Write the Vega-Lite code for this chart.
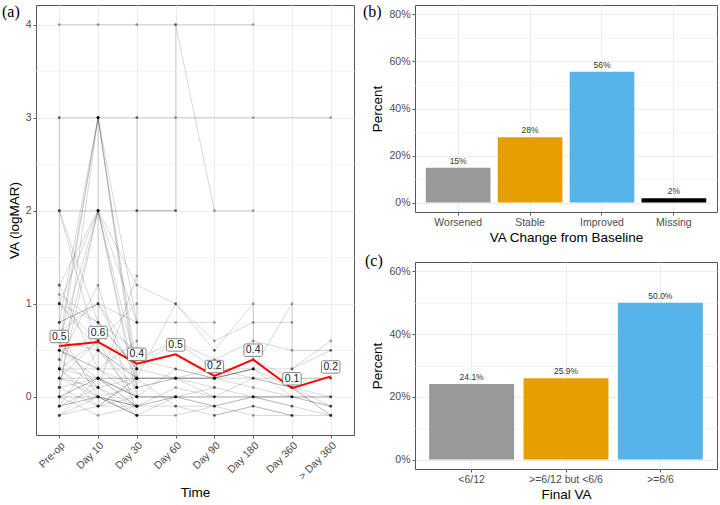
{
  "$schema": "https://vega.github.io/schema/vega-lite/v6.json",
  "padding": {"left": 1, "top": 3, "right": 2, "bottom": 2},
  "bounds": "flush",
  "spacing": 61,
  "config": {
    "font": "Liberation Sans",
    "view": {"stroke": "#555555", "strokeWidth": 1},
    "axis": {
      "domain": false, "tickColor": "#333333", "tickSize": 3, "tickWidth": 0.8,
      "labelColor": "#4d4d4d", "labelFont": "Liberation Sans", "labelFontSize": 10.5, "labelPadding": 2,
      "titleFont": "Liberation Sans", "titleFontSize": 13.5, "titleFontWeight": "normal", "titleColor": "#000000",
      "gridColor": "#ebebeb", "gridWidth": 1
    },
    "title": {"font": "Liberation Serif", "fontSize": 16, "fontWeight": "normal", "color": "#000000", "anchor": "start", "frame": "group", "offset": 0, "baseline": "alphabetic"}
  },
  "datasets": {
    "va": [
      {"p":1,"t":"Pre-op","v":0.5,"o":0},{"p":1,"t":"Day 10","v":3,"o":1},{"p":1,"t":"Day 30","v":0.2,"o":2},
      {"p":2,"t":"Pre-op","v":1,"o":0},{"p":2,"t":"Day 10","v":2,"o":1},{"p":2,"t":"Day 30","v":0,"o":2},
      {"p":3,"t":"Pre-op","v":0.3,"o":0},{"p":3,"t":"Day 10","v":2,"o":1},{"p":3,"t":"Day 30","v":0.1,"o":2},
      {"p":4,"t":"Pre-op","v":0.8,"o":0},{"p":4,"t":"Day 10","v":3,"o":1},{"p":4,"t":"Day 30","v":0.3,"o":2},
      {"p":5,"t":"Pre-op","v":0.2,"o":0},{"p":5,"t":"Day 10","v":0.6,"o":1},{"p":5,"t":"Day 30","v":-0.1,"o":2},
      {"p":6,"t":"Pre-op","v":0,"o":0},{"p":6,"t":"Day 10","v":0.2,"o":1},{"p":6,"t":"Day 30","v":-0.1,"o":2},
      {"p":7,"t":"Pre-op","v":-0.1,"o":0},{"p":7,"t":"Day 10","v":0.5,"o":1},{"p":7,"t":"Day 30","v":0.2,"o":2},
      {"p":8,"t":"Pre-op","v":0.4,"o":0},{"p":8,"t":"Day 10","v":1.2,"o":1},{"p":8,"t":"Day 30","v":-0.2,"o":2},
      {"p":9,"t":"Pre-op","v":1.2,"o":0},{"p":9,"t":"Day 10","v":0.3,"o":1},{"p":9,"t":"Day 30","v":0.1,"o":2},
      {"p":10,"t":"Pre-op","v":0.6,"o":0},{"p":10,"t":"Day 10","v":0.1,"o":1},{"p":10,"t":"Day 30","v":-0.2,"o":2},
      {"p":11,"t":"Pre-op","v":-0.2,"o":0},{"p":11,"t":"Day 10","v":0.2,"o":1},{"p":11,"t":"Day 30","v":0,"o":2},
      {"p":12,"t":"Pre-op","v":0.3,"o":0},{"p":12,"t":"Day 10","v":-0.1,"o":1},{"p":12,"t":"Day 30","v":0.2,"o":2},
      {"p":13,"t":"Pre-op","v":1.1,"o":0},{"p":13,"t":"Day 10","v":0.8,"o":1},{"p":13,"t":"Day 30","v":0.3,"o":2},
      {"p":14,"t":"Pre-op","v":0.7,"o":0},{"p":14,"t":"Day 10","v":0,"o":1},{"p":14,"t":"Day 30","v":-0.1,"o":2},
      {"p":15,"t":"Pre-op","v":0.1,"o":0},{"p":15,"t":"Day 10","v":2,"o":1},{"p":15,"t":"Day 30","v":0.8,"o":2},
      {"p":16,"t":"Pre-op","v":0.5,"o":0},{"p":16,"t":"Day 10","v":0.3,"o":1},{"p":16,"t":"Day 30","v":0.6,"o":2},
      {"p":17,"t":"Pre-op","v":0,"o":0},{"p":17,"t":"Day 10","v":-0.2,"o":1},{"p":17,"t":"Day 30","v":-0.1,"o":2},
      {"p":18,"t":"Pre-op","v":2,"o":0},{"p":18,"t":"Day 10","v":0.5,"o":1},{"p":18,"t":"Day 30","v":0,"o":2},
      {"p":19,"t":"Pre-op","v":0.8,"o":0},{"p":19,"t":"Day 10","v":1,"o":1},{"p":19,"t":"Day 30","v":0.2,"o":2},
      {"p":20,"t":"Pre-op","v":-0.1,"o":0},{"p":20,"t":"Day 10","v":0.1,"o":1},{"p":20,"t":"Day 30","v":1.3,"o":2},
      {"p":21,"t":"Pre-op","v":0.2,"o":0},{"p":21,"t":"Day 10","v":0.2,"o":1},{"p":21,"t":"Day 30","v":0,"o":2},
      {"p":22,"t":"Pre-op","v":0.3,"o":0},{"p":22,"t":"Day 10","v":0,"o":1},{"p":22,"t":"Day 30","v":-0.2,"o":2},
      {"p":23,"t":"Pre-op","v":1,"o":0},{"p":23,"t":"Day 10","v":0.6,"o":1},{"p":23,"t":"Day 30","v":1,"o":2},
      {"p":24,"t":"Pre-op","v":-0.2,"o":0},{"p":24,"t":"Day 10","v":-0.1,"o":1},{"p":24,"t":"Day 30","v":0.2,"o":2},{"p":24,"t":"Day 60","v":0.2,"o":3},{"p":24,"t":"Day 90","v":0,"o":4},
      {"p":25,"t":"Pre-op","v":0.3,"o":0},{"p":25,"t":"Day 10","v":0.6,"o":1},{"p":25,"t":"Day 30","v":0.2,"o":2},{"p":25,"t":"Day 60","v":0.2,"o":3},{"p":25,"t":"Day 90","v":0.1,"o":4},
      {"p":26,"t":"Pre-op","v":0.5,"o":0},{"p":26,"t":"Day 10","v":0.2,"o":1},{"p":26,"t":"Day 30","v":0,"o":2},{"p":26,"t":"Day 60","v":0,"o":3},{"p":26,"t":"Day 90","v":0,"o":4},{"p":26,"t":"Day 180","v":0,"o":5},{"p":26,"t":"Day 360","v":-0.1,"o":6},
      {"p":27,"t":"Pre-op","v":1,"o":0},{"p":27,"t":"Day 10","v":0.8,"o":1},{"p":27,"t":"Day 30","v":0.3,"o":2},{"p":27,"t":"Day 60","v":0.6,"o":3},{"p":27,"t":"Day 90","v":0.3,"o":4},{"p":27,"t":"Day 180","v":0.3,"o":5},{"p":27,"t":"Day 360","v":0.1,"o":6},{"p":27,"t":"> Day 360","v":-0.2,"o":7},
      {"p":28,"t":"Pre-op","v":0.2,"o":0},{"p":28,"t":"Day 10","v":0,"o":1},{"p":28,"t":"Day 30","v":-0.1,"o":2},{"p":28,"t":"Day 60","v":0,"o":3},{"p":28,"t":"Day 90","v":-0.1,"o":4},
      {"p":29,"t":"Pre-op","v":0.6,"o":0},{"p":29,"t":"Day 10","v":2,"o":1},{"p":29,"t":"Day 30","v":1.2,"o":2},{"p":29,"t":"Day 60","v":1,"o":3},{"p":29,"t":"Day 90","v":0.5,"o":4},
      {"p":30,"t":"Pre-op","v":0,"o":0},{"p":30,"t":"Day 10","v":0.2,"o":1},{"p":30,"t":"Day 30","v":0.2,"o":2},{"p":30,"t":"Day 60","v":-0.1,"o":3},{"p":30,"t":"Day 90","v":-0.2,"o":4},{"p":30,"t":"Day 180","v":-0.1,"o":5},{"p":30,"t":"Day 360","v":-0.2,"o":6},
      {"p":31,"t":"Pre-op","v":0.1,"o":0},{"p":31,"t":"Day 10","v":-0.1,"o":1},{"p":31,"t":"Day 30","v":0,"o":2},{"p":31,"t":"Day 60","v":0.3,"o":3},{"p":31,"t":"Day 90","v":0.2,"o":4},{"p":31,"t":"Day 180","v":0.3,"o":5},{"p":31,"t":"Day 360","v":0.3,"o":6},{"p":31,"t":"> Day 360","v":0.5,"o":7},
      {"p":32,"t":"Pre-op","v":-0.1,"o":0},{"p":32,"t":"Day 10","v":0,"o":1},{"p":32,"t":"Day 30","v":-0.2,"o":2},{"p":32,"t":"Day 60","v":-0.2,"o":3},{"p":32,"t":"Day 180","v":0,"o":4},{"p":32,"t":"Day 360","v":0,"o":5},{"p":32,"t":"> Day 360","v":-0.1,"o":6},
      {"p":33,"t":"Pre-op","v":0.8,"o":0},{"p":33,"t":"Day 10","v":1,"o":1},{"p":33,"t":"Day 30","v":0.8,"o":2},{"p":33,"t":"Day 60","v":0.8,"o":3},{"p":33,"t":"Day 90","v":0.8,"o":4},
      {"p":34,"t":"Pre-op","v":1,"o":0},{"p":34,"t":"Day 10","v":0.5,"o":1},{"p":34,"t":"Day 30","v":0.2,"o":2},{"p":34,"t":"Day 60","v":0.2,"o":3},{"p":34,"t":"Day 90","v":0.2,"o":4},{"p":34,"t":"Day 180","v":0.4,"o":5},{"p":34,"t":"Day 360","v":0.2,"o":6},{"p":34,"t":"> Day 360","v":0.2,"o":7},
      {"p":35,"t":"Pre-op","v":0.5,"o":0},{"p":35,"t":"Day 10","v":0.3,"o":1},{"p":35,"t":"Day 30","v":0,"o":2},{"p":35,"t":"Day 60","v":0,"o":3},{"p":35,"t":"Day 90","v":0.1,"o":4},{"p":35,"t":"Day 180","v":0,"o":5},{"p":35,"t":"Day 360","v":0,"o":6},{"p":35,"t":"> Day 360","v":0,"o":7},
      {"p":36,"t":"Pre-op","v":0.2,"o":0},{"p":36,"t":"Day 10","v":0.1,"o":1},{"p":36,"t":"Day 30","v":-0.1,"o":2},{"p":36,"t":"Day 60","v":0.1,"o":3},{"p":36,"t":"Day 90","v":0,"o":4},{"p":36,"t":"Day 180","v":0.2,"o":5},{"p":36,"t":"Day 360","v":0.1,"o":6},{"p":36,"t":"> Day 360","v":-0.2,"o":7},
      {"p":37,"t":"Pre-op","v":0.7,"o":0},{"p":37,"t":"Day 10","v":1,"o":1},{"p":37,"t":"Day 30","v":0.4,"o":2},{"p":37,"t":"Day 60","v":0.6,"o":3},{"p":37,"t":"Day 90","v":0.4,"o":4},{"p":37,"t":"Day 180","v":0.6,"o":5},{"p":37,"t":"Day 360","v":0.5,"o":6},{"p":37,"t":"> Day 360","v":0.5,"o":7},
      {"p":38,"t":"Pre-op","v":0,"o":0},{"p":38,"t":"Day 10","v":0,"o":1},{"p":38,"t":"Day 30","v":-0.2,"o":2},{"p":38,"t":"Day 60","v":0,"o":3},{"p":38,"t":"Day 90","v":-0.1,"o":4},{"p":38,"t":"Day 180","v":-0.2,"o":5},{"p":38,"t":"Day 360","v":-0.2,"o":6},
      {"p":39,"t":"Pre-op","v":0.3,"o":0},{"p":39,"t":"Day 10","v":0.2,"o":1},{"p":39,"t":"Day 30","v":0.2,"o":2},{"p":39,"t":"Day 60","v":1,"o":3},{"p":39,"t":"Day 90","v":0.6,"o":4},{"p":39,"t":"Day 180","v":0.8,"o":5},{"p":39,"t":"Day 360","v":0.8,"o":6},
      {"p":40,"t":"Pre-op","v":2,"o":0},{"p":40,"t":"Day 10","v":0.8,"o":1},{"p":40,"t":"Day 30","v":0.5,"o":2},
      {"p":41,"t":"Pre-op","v":1.2,"o":0},{"p":41,"t":"Day 10","v":2,"o":1},{"p":41,"t":"Day 30","v":0.3,"o":2},
      {"p":43,"t":"Pre-op","v":0.6,"o":0},{"p":43,"t":"Day 10","v":0.5,"o":1},{"p":43,"t":"Day 30","v":0.1,"o":2},{"p":43,"t":"Day 90","v":0.3,"o":3},{"p":43,"t":"Day 180","v":0.2,"o":4},{"p":43,"t":"> Day 360","v":0,"o":5},
      {"p":44,"t":"Pre-op","v":-0.2,"o":0},{"p":44,"t":"Day 10","v":0,"o":1},{"p":44,"t":"Day 30","v":0.1,"o":2},{"p":44,"t":"Day 60","v":0.2,"o":3},{"p":44,"t":"Day 90","v":0.2,"o":4},{"p":44,"t":"Day 180","v":0.3,"o":5},
      {"p":45,"t":"Pre-op","v":0.3,"o":0},{"p":45,"t":"Day 10","v":0.3,"o":1},{"p":45,"t":"Day 30","v":0.3,"o":2},{"p":45,"t":"Day 60","v":0.2,"o":3},{"p":45,"t":"Day 90","v":0.2,"o":4},{"p":45,"t":"Day 180","v":0.2,"o":5},{"p":45,"t":"Day 360","v":0.2,"o":6},{"p":45,"t":"> Day 360","v":0.2,"o":7},
      {"p":46,"t":"Pre-op","v":0,"o":0},{"p":46,"t":"Day 10","v":3,"o":1},{"p":46,"t":"Day 30","v":0.1,"o":2},
      {"p":47,"t":"Pre-op","v":0.6,"o":0},{"p":47,"t":"Day 10","v":3,"o":1},{"p":47,"t":"Day 30","v":0.8,"o":2},
      {"p":48,"t":"Pre-op","v":0.4,"o":0},{"p":48,"t":"Day 10","v":0.1,"o":1},{"p":48,"t":"Day 30","v":0.2,"o":2},{"p":48,"t":"Day 60","v":0.2,"o":3},{"p":48,"t":"Day 90","v":0.2,"o":4},{"p":48,"t":"Day 180","v":0.1,"o":5},{"p":48,"t":"Day 360","v":0,"o":6},{"p":48,"t":"> Day 360","v":0,"o":7},
      {"p":49,"t":"Pre-op","v":0.1,"o":0},{"p":49,"t":"Day 10","v":0.2,"o":1},{"p":49,"t":"Day 30","v":-0.1,"o":2},{"p":49,"t":"Day 60","v":-0.1,"o":3},{"p":49,"t":"Day 90","v":-0.1,"o":4},{"p":49,"t":"Day 180","v":0,"o":5},{"p":49,"t":"Day 360","v":-0.1,"o":6},{"p":49,"t":"> Day 360","v":-0.2,"o":7},
      {"p":50,"t":"Pre-op","v":0.5,"o":0},{"p":50,"t":"Day 10","v":0.6,"o":1},{"p":50,"t":"Day 30","v":0.4,"o":2},{"p":50,"t":"Day 60","v":0.3,"o":3},{"p":50,"t":"Day 90","v":0.2,"o":4},{"p":50,"t":"Day 180","v":0.3,"o":5},{"p":50,"t":"Day 360","v":0,"o":6},{"p":50,"t":"> Day 360","v":-0.1,"o":7},
      {"p":51,"t":"Pre-op","v":4,"o":0},{"p":51,"t":"Day 10","v":4,"o":1},{"p":51,"t":"Day 30","v":4,"o":2},{"p":51,"t":"Day 60","v":4,"o":3},{"p":51,"t":"Day 90","v":2,"o":4},{"p":51,"t":"Day 180","v":2,"o":5},
      {"p":52,"t":"Day 30","v":2,"o":0},{"p":52,"t":"Day 60","v":2,"o":1},{"p":52,"t":"Day 60","v":4,"o":2},{"p":52,"t":"Day 180","v":4,"o":3},
      {"p":53,"t":"Pre-op","v":3,"o":0},{"p":53,"t":"Day 10","v":3,"o":1},{"p":53,"t":"Day 30","v":3,"o":2},{"p":53,"t":"Day 60","v":3,"o":3},{"p":53,"t":"Day 180","v":3,"o":4},{"p":53,"t":"> Day 360","v":3,"o":5},
      {"p":54,"t":"Pre-op","v":3,"o":0},{"p":54,"t":"Pre-op","v":-0.1,"o":1},{"p":54,"t":"Day 10","v":0,"o":2},{"p":54,"t":"Day 30","v":-0.1,"o":3},
      {"p":55,"t":"Day 10","v":3,"o":0},{"p":55,"t":"Day 10","v":-0.1,"o":1},{"p":55,"t":"Day 30","v":-0.1,"o":2},{"p":55,"t":"Day 60","v":0,"o":3},
      {"p":56,"t":"Day 30","v":3,"o":0},{"p":56,"t":"Day 30","v":0,"o":1},{"p":56,"t":"Day 60","v":0,"o":2},{"p":56,"t":"Day 90","v":0,"o":3},{"p":56,"t":"Day 180","v":0,"o":4},{"p":56,"t":"Day 360","v":0,"o":5},
      {"p":57,"t":"Pre-op","v":2,"o":0},{"p":57,"t":"Day 10","v":2,"o":1},{"p":57,"t":"Day 30","v":2,"o":2},{"p":57,"t":"Day 60","v":2,"o":3},
      {"p":58,"t":"Day 90","v":0.5,"o":0},{"p":58,"t":"Day 180","v":1,"o":1},{"p":58,"t":"Day 180","v":0.4,"o":2},{"p":58,"t":"Day 360","v":0.1,"o":3},{"p":58,"t":"> Day 360","v":-0.1,"o":4},
      {"p":59,"t":"Day 90","v":0.2,"o":0},{"p":59,"t":"Day 180","v":0.3,"o":1},{"p":59,"t":"Day 360","v":1,"o":2},{"p":59,"t":"Day 360","v":0.3,"o":3},{"p":59,"t":"> Day 360","v":0.6,"o":4},
      {"p":60,"t":"Day 90","v":-0.2,"o":0},{"p":60,"t":"Day 180","v":-0.1,"o":1},{"p":60,"t":"Day 360","v":-0.2,"o":2},{"p":60,"t":"> Day 360","v":-0.2,"o":3}
    ],
    "means": [
      {"t":"Pre-op","m":0.547,"lab":"0.5","o":0},
      {"t":"Day 10","m":0.59,"lab":"0.6","o":1},
      {"t":"Day 30","m":0.357,"lab":"0.4","o":2},
      {"t":"Day 60","m":0.457,"lab":"0.5","o":3},
      {"t":"Day 90","m":0.225,"lab":"0.2","o":4},
      {"t":"Day 180","m":0.4,"lab":"0.4","o":5},
      {"t":"Day 360","m":0.093,"lab":"0.1","o":6},
      {"t":"> Day 360","m":0.22,"lab":"0.2","o":7}
    ],
    "change": [
      {"cat":"Worsened","pct":0.148,"lab":"15%"},
      {"cat":"Stable","pct":0.278,"lab":"28%"},
      {"cat":"Improved","pct":0.556,"lab":"56%"},
      {"cat":"Missing","pct":0.0185,"lab":"2%"}
    ],
    "final": [
      {"cat":"<6/12","pct":0.241,"lab":"24.1%"},
      {"cat":">=6/12 but <6/6","pct":0.259,"lab":"25.9%"},
      {"cat":">=6/6","pct":0.5,"lab":"50.0%"}
    ]
  },
  "hconcat": [
    {
      "width": 318, "height": 430,
      "title": {"text": "(a)", "dx": -34, "dy": 19},
      "encoding": {
        "x": {"field": "t", "type": "ordinal", "sort": ["Pre-op","Day 10","Day 30","Day 60","Day 90","Day 180","Day 360","> Day 360"],
              "scale": {"type": "point", "padding": 0.6},
              "axis": {"title": "Time", "labelAngle": 315, "grid": true, "labelFontSize": 10.5, "titlePadding": 4}}
      },
      "layer": [
        {
          "data": {"name": "va"},
          "mark": {"type": "line", "color": "#000000", "opacity": 0.2, "strokeWidth": 0.8},
          "encoding": {
            "y": {"field": "v", "type": "quantitative", "scale": {"domain": [-0.41, 4.21], "nice": false, "zero": false},
                  "axis": {"title": "VA (logMAR)", "values": [0,0.5,1,1.5,2,2.5,3,3.5,4], "format": ".0f",
                           "labelExpr": "datum.value % 1 == 0 ? datum.label : ''",
                           "tickOpacity": {"condition": {"test": "datum.value % 1 != 0", "value": 0}, "value": 1},
                           "gridColor": {"condition": {"test": "datum.value % 1 != 0", "value": "#f4f4f4"}, "value": "#ebebeb"}}},
            "detail": {"field": "p", "type": "nominal"},
            "order": {"field": "o", "type": "quantitative"}
          }
        },
        {
          "data": {"name": "va"},
          "mark": {"type": "point", "filled": true, "color": "#000000", "opacity": 0.35, "size": 8},
          "encoding": {"y": {"field": "v", "type": "quantitative"}}
        },
        {
          "data": {"name": "means"},
          "mark": {"type": "line", "color": "#ff0000", "strokeWidth": 2},
          "encoding": {"y": {"field": "m", "type": "quantitative"}, "order": {"field": "o", "type": "quantitative"}}
        },
        {
          "data": {"name": "means"},
          "mark": {"type": "point", "filled": true, "fill": "#ffffff", "stroke": "#555555", "strokeWidth": 0.7, "opacity": 1, "size": 400,
                   "shape": "M-0.82,-1.56H0.82L0.92,-1.46V-0.42L0.82,-0.32H-0.82L-0.92,-0.42V-1.46Z"},
          "encoding": {"y": {"field": "m", "type": "quantitative"}}
        },
        {
          "data": {"name": "means"},
          "mark": {"type": "text", "fontSize": 10.5, "color": "#1a1a1a", "dy": -9.4, "baseline": "middle", "font": "Liberation Sans"},
          "encoding": {"y": {"field": "m", "type": "quantitative"}, "text": {"field": "lab"}}
        }
      ]
    },
    {
      "bounds": "flush",
      "spacing": 50,
      "vconcat": [
        {
          "width": 302, "height": 207,
          "title": {"text": "(b)", "dx": -52, "dy": 19},
          "data": {"name": "change"},
          "encoding": {
            "x": {"field": "cat", "type": "nominal", "sort": ["Worsened","Stable","Improved","Missing"],
                  "scale": {"paddingInner": 0.1, "paddingOuter": 0.15},
                  "axis": {"title": "VA Change from Baseline", "labelAngle": 0, "grid": true, "bandPosition": 0.5, "titlePadding": 3}},
            "y": {"field": "pct", "type": "quantitative", "scale": {"domain": [-0.04, 0.84], "nice": false, "zero": false},
                  "axis": {"title": "Percent", "values": [0,0.1,0.2,0.3,0.4,0.5,0.6,0.7,0.8], "format": ".0%",
                           "labelExpr": "round(datum.value*10) % 2 == 1 ? '' : datum.label",
                           "tickOpacity": {"condition": {"test": "round(datum.value*10) % 2 == 1", "value": 0}, "value": 1},
                           "gridColor": {"condition": {"test": "round(datum.value*10) % 2 == 1", "value": "#f4f4f4"}, "value": "#ebebeb"}}}
          },
          "layer": [
            {
              "mark": {"type": "bar"},
              "encoding": {
                "y2": {"datum": 0},
                "color": {"field": "cat", "type": "nominal", "legend": null,
                          "scale": {"domain": ["Worsened","Stable","Improved","Missing"], "range": ["#999999","#E69F00","#56B4E9","#000000"]}}
              }
            },
            {
              "mark": {"type": "text", "fontSize": 8.5, "color": "#333333", "baseline": "bottom", "dy": -2},
              "encoding": {"text": {"field": "lab"}}
            }
          ]
        },
        {
          "width": 302, "height": 207,
          "title": {"text": "(c)", "dx": -50, "dy": 11},
          "data": {"name": "final"},
          "encoding": {
            "x": {"field": "cat", "type": "nominal", "sort": ["<6/12",">=6/12 but <6/6",">=6/6"],
                  "scale": {"paddingInner": 0.1, "paddingOuter": 0.15},
                  "axis": {"title": "Final VA", "labelAngle": 0, "grid": true, "bandPosition": 0.5, "titlePadding": 3}},
            "y": {"field": "pct", "type": "quantitative", "scale": {"domain": [-0.03, 0.63], "nice": false, "zero": false},
                  "axis": {"title": "Percent", "values": [0,0.1,0.2,0.3,0.4,0.5,0.6], "format": ".0%",
                           "labelExpr": "round(datum.value*10) % 2 == 1 ? '' : datum.label",
                           "tickOpacity": {"condition": {"test": "round(datum.value*10) % 2 == 1", "value": 0}, "value": 1},
                           "gridColor": {"condition": {"test": "round(datum.value*10) % 2 == 1", "value": "#f4f4f4"}, "value": "#ebebeb"}}}
          },
          "layer": [
            {
              "mark": {"type": "bar"},
              "encoding": {
                "y2": {"datum": 0},
                "color": {"field": "cat", "type": "nominal", "legend": null,
                          "scale": {"domain": ["<6/12",">=6/12 but <6/6",">=6/6"], "range": ["#999999","#E69F00","#56B4E9"]}}
              }
            },
            {
              "mark": {"type": "text", "fontSize": 8.5, "color": "#333333", "baseline": "bottom", "dy": -2},
              "encoding": {"text": {"field": "lab"}}
            }
          ]
        }
      ]
    }
  ]
}
